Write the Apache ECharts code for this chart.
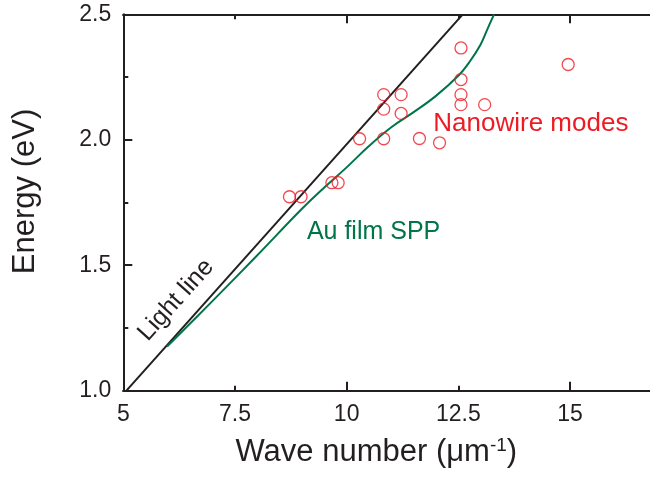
<!DOCTYPE html>
<html>
<head>
<meta charset="utf-8">
<script src="https://cdn.jsdelivr.net/npm/echarts@6/dist/echarts.min.js"></script>
<style>
html,body{margin:0;padding:0;background:#fff;overflow:hidden;width:650px;height:479px;}
#main{width:670px;height:479px;}
</style>
</head>
<body>
<div id="main"></div>
<script>
// ---- data ----
const xTickLabels = ['5', '7.5', '10', '12.5', '15'];
const yTickLabels = ['1.0', '1.5', '2.0', '2.5'];

// Light line (black), endpoints
const lightK = [5.07, 12.6];
const lightE = [1.0, 2.5];

// Au film SPP dispersion (green)
const sppK = [5.98, 7.0, 8.0, 9.0, 9.5, 10.0, 10.5, 11.0, 11.5, 12.0, 12.5, 12.75, 13.0, 13.15, 13.3];
const sppE = [1.176, 1.358, 1.54, 1.725, 1.81, 1.89, 1.975, 2.05, 2.11, 2.175, 2.255, 2.31, 2.38, 2.44, 2.5];

// Nanowire modes (red open circles)
const nanoK = [8.72, 8.98, 9.67, 9.81, 10.29, 10.83, 10.83, 10.83, 11.22, 11.22, 11.63, 12.08, 12.56, 12.56, 12.56, 12.56, 13.09, 14.96];
const nanoE = [1.773, 1.773, 1.829, 1.829, 2.004, 2.004, 2.122, 2.18, 2.18, 2.105, 2.005, 1.988, 2.366, 2.24, 2.18, 2.14, 2.14, 2.30];

const annoText = ['Light line', 'Nanowire modes', 'Au film SPP'];
// --------------------------------------

const FONT = '"Liberation Sans", Arial, Helvetica, sans-serif';
const INK = '#231f20';
const RED = '#ed1c24';
const GREEN = '#00754a';

const zip = (a, b) => a.map((v, i) => [v, b[i]]);

const chart = echarts.init(document.getElementById('main'), null, {renderer: 'canvas'});

const commonLine = {show: true, lineStyle: {color: INK, width: 2}};
function xAx(pos, interval, len, labels, extra) {
  return Object.assign({
    type: 'value', position: pos, min: 5, max: 17, interval: interval, gridIndex: 0,
    axisLine: commonLine,
    axisTick: {show: true, inside: true, length: len, lineStyle: {color: INK, width: 2}},
    splitLine: {show: false},
    axisLabel: labels ? {
      show: true, fontSize: 23, fontFamily: FONT, color: INK, margin: 12,
      showMaxLabel: false,
      formatter: function (v) {
        const s = String(+v.toFixed(2));
        return xTickLabels.indexOf(s) >= 0 ? s : '';
      }
    } : {show: false}
  }, extra || {});
}

const option = {
  animation: false,
  backgroundColor: '#fff',
  grid: {left: 123.3, top: 14.3, width: 536, height: 376.4, containLabel: false},
  xAxis: [
    xAx('bottom', 2.5, 5, true, {
      name: '{a|Wave number (μm}{sup|-1}{a|)}',
      nameLocation: 'middle', nameGap: 46,
      nameTextStyle: {
        fontSize: 31, fontFamily: FONT, color: INK, padding: [0, 30, 0, 0],
        rich: {
          a: {fontSize: 31, fontFamily: FONT, color: INK, lineHeight: 31},
          sup: {fontSize: 19, fontFamily: FONT, color: INK, verticalAlign: 'top', lineHeight: 22}
        }
      }
    }),
    xAx('bottom', 5, 9, false),
    xAx('top', 2.5, 5, false),
    xAx('top', 5, 9, false)
  ],
  yAxis: [
    {
      type: 'value', position: 'left', min: 1.0, max: 2.5, interval: 0.5,
      axisLine: commonLine,
      axisTick: {show: true, inside: true, length: 9, lineStyle: {color: INK, width: 2}},
      minorTick: {show: true, splitNumber: 2, length: 5, lineStyle: {color: INK, width: 2}},
      splitLine: {show: false}, minorSplitLine: {show: false},
      axisLabel: {
        show: true, fontSize: 23, fontFamily: FONT, color: INK, margin: 12,
        formatter: function (v) {
          const s = v.toFixed(1);
          return yTickLabels.indexOf(s) >= 0 ? s : '';
        }
      },
      name: 'Energy (eV)', nameLocation: 'middle', nameGap: 82,
      nameTextStyle: {fontSize: 31, fontFamily: FONT, color: INK, padding: [0, 0, 0, 22]}
    },
    {
      type: 'value', position: 'right', min: 1.0, max: 2.5, interval: 0.5,
      axisLine: commonLine,
      axisTick: {show: true, inside: true, length: 9, lineStyle: {color: INK, width: 2}},
      minorTick: {show: true, splitNumber: 2, length: 5, lineStyle: {color: INK, width: 2}},
      splitLine: {show: false}, minorSplitLine: {show: false},
      axisLabel: {show: false}
    }
  ],
  series: [
    {
      name: 'Light line', type: 'line', xAxisIndex: 0, yAxisIndex: 0,
      data: zip(lightK, lightE), showSymbol: false, symbol: 'none',
      lineStyle: {color: INK, width: 2}, clip: true, z: 3
    },
    {
      name: 'Au film SPP', type: 'line', xAxisIndex: 0, yAxisIndex: 0,
      data: zip(sppK, sppE), smooth: 0.4, showSymbol: false, symbol: 'none',
      lineStyle: {color: GREEN, width: 2}, clip: true, z: 3
    },
    {
      name: 'Nanowire modes', type: 'scatter', xAxisIndex: 0, yAxisIndex: 0,
      data: zip(nanoK, nanoE), symbol: 'circle', symbolSize: 12,
      itemStyle: {color: 'rgba(255,255,255,0)', borderColor: RED, borderWidth: 1.3}, z: 4
    }
  ]
};
chart.setOption(option);

// annotation anchors in data space (k, E)
const annoAnchor = [[6.18, 1.361], [11.94, 2.065], [9.11, 1.632]];
const annoStyle = [
  {fill: INK, size: 25, align: 'center', rot: 48},
  {fill: RED, size: 26, align: 'left', rot: 0},
  {fill: GREEN, size: 25, align: 'left', rot: 0}
];
const graphics = annoText.map(function (t, i) {
  const p = chart.convertToPixel({xAxisIndex: 0, yAxisIndex: 0}, annoAnchor[i]);
  const st = annoStyle[i];
  return {
    type: 'text', x: p[0], y: p[1], rotation: st.rot * Math.PI / 180, z: 10,
    style: {text: t, fill: st.fill, fontSize: st.size, fontFamily: FONT, align: st.align, verticalAlign: 'middle'}
  };
});
chart.setOption({graphic: graphics});
</script>
</body>
</html>
